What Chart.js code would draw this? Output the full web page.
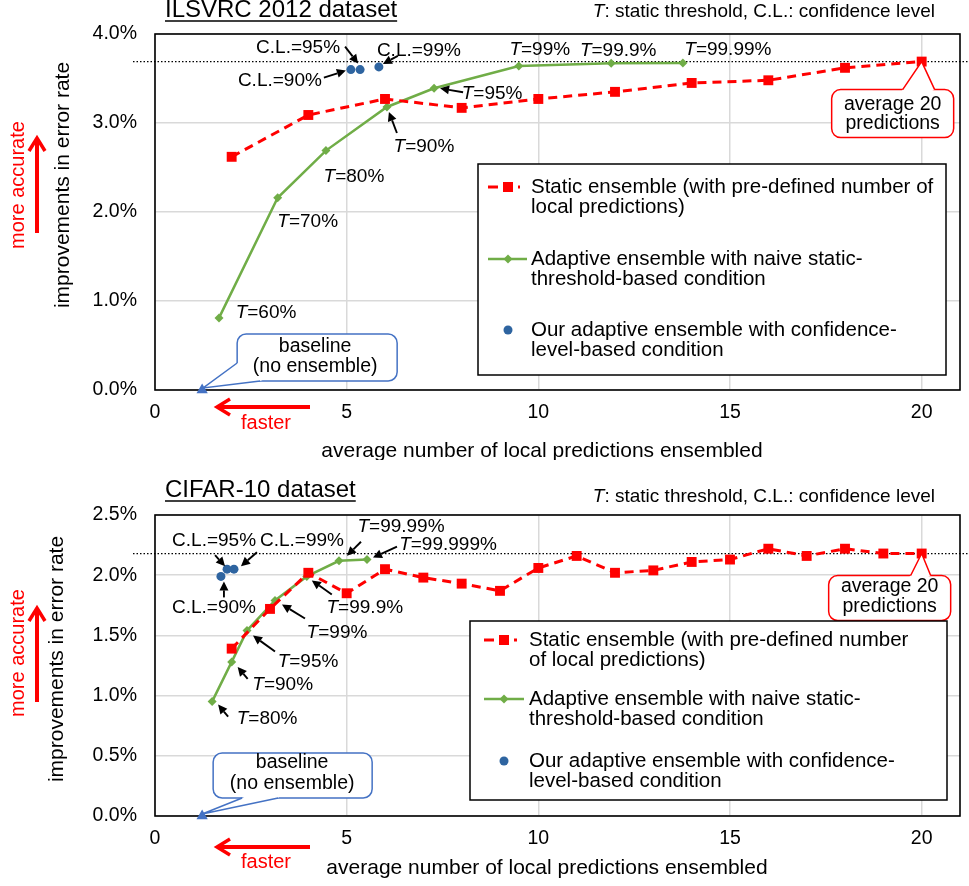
<!DOCTYPE html>
<html>
<head>
<meta charset="utf-8">
<script src="https://cdn.jsdelivr.net/npm/chart.js@4.4.1/dist/chart.umd.min.js"></script>
<style>
  body { margin: 0; background: #fff; }
  #wrapTop { position: absolute; left: 0; top: 0; width: 969px; height: 460px; }
  #wrapBot { position: absolute; left: 0; top: 460px; width: 969px; height: 426px; }
</style>
</head>
<body>
<div id="wrapTop"><canvas id="chartTop"></canvas></div>
<div id="wrapBot"><canvas id="chartBot"></canvas></div>
<script>
// ---------- dados ----------
const xTicks = [0, 5, 10, 15, 20];
const yTicksTop = [0, 1, 2, 3, 4];
const yTicksBot = [0, 0.5, 1, 1.5, 2, 2.5];

// ILSVRC 2012
const staticTopX = [2, 4, 6, 8, 10, 12, 14, 16, 18, 20];
const staticTopY = [2.62, 3.09, 3.27, 3.17, 3.27, 3.35, 3.45, 3.48, 3.62, 3.69];
const adaptiveTopX = [1.67, 3.2, 4.46, 6.05, 7.28, 9.49, 11.9, 13.77];
const adaptiveTopY = [0.81, 2.16, 2.69, 3.18, 3.39, 3.64, 3.67, 3.675];
const adaptiveTopLabels = ['T=60%', 'T=70%', 'T=80%', 'T=90%', 'T=95%', 'T=99%', 'T=99.9%', 'T=99.99%'];
const oursTopX = [5.11, 5.35, 5.84];
const oursTopY = [3.60, 3.60, 3.63];

// CIFAR-10
const staticBotX = [2, 3, 4, 5, 6, 7, 8, 9, 10, 11, 12, 13, 14, 15, 16, 17, 18, 19, 20];
const staticBotY = [1.39, 1.72, 2.02, 1.85, 2.05, 1.98, 1.93, 1.87, 2.06, 2.16, 2.02, 2.04, 2.11, 2.13, 2.22, 2.16, 2.22, 2.18, 2.18];
const adaptiveBotX = [1.49, 2.0, 2.4, 3.13, 3.96, 4.8, 5.53];
const adaptiveBotY = [0.95, 1.28, 1.54, 1.79, 1.99, 2.12, 2.13];
const adaptiveBotLabels = ['T=80%', 'T=90%', 'T=95%', 'T=99%', 'T=99.9%', 'T=99.99%', 'T=99.999%'];
const oursBotX = [1.72, 1.88, 2.06];
const oursBotY = [1.99, 2.05, 2.05];

const oursLabels = ['C.L.=90%', 'C.L.=95%', 'C.L.=99%'];
const baselineX = [1.23];
const baselineY = [0];

const legendTop = [
    ['Static ensemble (with pre-defined number of', 'local predictions)'],
    ['Adaptive ensemble with naive static-', 'threshold-based condition'],
    ['Our adaptive ensemble with confidence-', 'level-based condition']
];
const legendBot = [
    ['Static ensemble (with pre-defined number', 'of local predictions)'],
    ['Adaptive ensemble with naive static-', 'threshold-based condition'],
    ['Our adaptive ensemble with confidence-', 'level-based condition']
];

// ---------- estilos ----------
const RED = '#FF0000';
const GREEN = '#70AD47';
const DOT_BLUE = '#2E64A0';
const BLUE = '#4472C4';
const GRID = '#D9D9D9';
const FONT = '"Liberation Sans", Arial, Helvetica, sans-serif';

function font(size, italic) {
    return (italic ? 'italic ' : '') + size + 'px ' + FONT;
}

function zip(xs, ys) {
    return xs.map((x, i) => ({ x: x, y: ys[i] }));
}

// texto com o "T" em itálico
function richText(ctx, txt, x, y, size, align, color) {
    const parts = /^T[=:]/.test(txt) ? [['T', true], [txt.slice(1), false]] : [[txt, false]];
    const widths = parts.map(p => { ctx.font = font(size, p[1]); return ctx.measureText(p[0]).width; });
    const total = widths.reduce((a, b) => a + b, 0);
    let sx = align === 'center' ? x - total / 2 : (align === 'right' ? x - total : x);
    ctx.fillStyle = color || '#000';
    ctx.textAlign = 'left';
    ctx.textBaseline = 'middle';
    parts.forEach((p, i) => {
        ctx.font = font(size, p[1]);
        ctx.fillText(p[0], sx, y);
        sx += widths[i];
    });
}

// seta preta com ponta cheia
function arrowFilled(ctx, x1, y1, x2, y2) {
    const ang = Math.atan2(y2 - y1, x2 - x1);
    const head = 9, hw = 4.5;
    const bx = x2 - head * Math.cos(ang), by = y2 - head * Math.sin(ang);
    ctx.strokeStyle = '#000';
    ctx.fillStyle = '#000';
    ctx.lineWidth = 1.9;
    ctx.beginPath(); ctx.moveTo(x1, y1); ctx.lineTo(bx, by); ctx.stroke();
    ctx.beginPath();
    ctx.moveTo(x2, y2);
    ctx.lineTo(bx + hw * Math.sin(ang), by - hw * Math.cos(ang));
    ctx.lineTo(bx - hw * Math.sin(ang), by + hw * Math.cos(ang));
    ctx.closePath(); ctx.fill();
}

// seta vermelha com ponta aberta
function arrowOpen(ctx, x1, y1, x2, y2) {
    const ang = Math.atan2(y2 - y1, x2 - x1);
    const head = 13, hw = 8;
    const bx = x2 - head * Math.cos(ang), by = y2 - head * Math.sin(ang);
    ctx.strokeStyle = RED;
    ctx.lineWidth = 4;
    ctx.lineCap = 'butt';
    ctx.beginPath(); ctx.moveTo(x1, y1); ctx.lineTo(x2 - 2 * Math.cos(ang), y2 - 2 * Math.sin(ang)); ctx.stroke();
    ctx.lineWidth = 3.5;
    ctx.beginPath();
    ctx.moveTo(bx + hw * Math.sin(ang), by - hw * Math.cos(ang));
    ctx.lineTo(x2, y2);
    ctx.lineTo(bx - hw * Math.sin(ang), by + hw * Math.cos(ang));
    ctx.stroke();
}

// balão com cunha apontando para um ponto
function callout(ctx, px, py, c) {
    const x = px + c.box[0], y = py + c.box[1], w = c.box[2], h = c.box[3];
    const cx = x + w / 2, cy = y + h / 2;
    const b1 = [px + c.wedge[0], py + c.wedge[1]];
    const b2 = [px + c.wedge[2], py + c.wedge[3]];
    const tip = [px + c.tip[0], py + c.tip[1]];
    const inward = (b) => {
        const d = Math.hypot(cx - b[0], cy - b[1]);
        return [b[0] + (cx - b[0]) / d * 4, b[1] + (cy - b[1]) / d * 4];
    };
    ctx.save();
    ctx.lineWidth = 1.5;
    ctx.strokeStyle = c.color;
    ctx.fillStyle = '#fff';
    ctx.beginPath(); ctx.roundRect(x, y, w, h, 9); ctx.fill(); ctx.stroke();
    const i1 = inward(b1), i2 = inward(b2);
    ctx.beginPath();
    ctx.moveTo(i1[0], i1[1]); ctx.lineTo(b1[0], b1[1]); ctx.lineTo(tip[0], tip[1]);
    ctx.lineTo(b2[0], b2[1]); ctx.lineTo(i2[0], i2[1]); ctx.closePath(); ctx.fill();
    ctx.beginPath();
    ctx.moveTo(b1[0], b1[1]); ctx.lineTo(tip[0], tip[1]); ctx.lineTo(b2[0], b2[1]); ctx.stroke();
    ctx.fillStyle = '#000';
    ctx.font = font(19.5);
    ctx.textAlign = 'center';
    ctx.textBaseline = 'middle';
    c.text.forEach((t, i) => ctx.fillText(t, px + c.textPos[0], py + c.textPos[1] + i * c.lineGap));
    ctx.restore();
}

function drawLabels(ctx, chart, dsIndex, labels, offs) {
    const meta = chart.getDatasetMeta(dsIndex);
    labels.forEach((txt, i) => {
        const p = meta.data[i];
        const o = offs[i];
        richText(ctx, txt, p.x + o.t[0], p.y + o.t[1], 19, 'center');
        if (o.a) arrowFilled(ctx, p.x + o.a[0], p.y + o.a[1], p.x + o.a[2], p.y + o.a[3]);
    });
}

function drawLegend(ctx, L, lines) {
    ctx.save();
    ctx.fillStyle = '#fff';
    ctx.fillRect(L.box[0], L.box[1], L.box[2], L.box[3]);
    ctx.strokeStyle = '#000';
    ctx.lineWidth = 1.5;
    ctx.strokeRect(L.box[0], L.box[1], L.box[2], L.box[3]);
    const [x0, x1, mx] = L.sample;
    // estático
    let y = L.rows[0];
    ctx.strokeStyle = RED; ctx.lineWidth = 3; ctx.setLineDash([10, 5]);
    ctx.beginPath(); ctx.moveTo(x0, y); ctx.lineTo(x1, y); ctx.stroke();
    ctx.setLineDash([]);
    ctx.fillStyle = RED; ctx.fillRect(mx - 5, y - 5, 10, 10);
    // adaptativo
    y = L.rows[1];
    ctx.strokeStyle = GREEN; ctx.lineWidth = 2.5;
    ctx.beginPath(); ctx.moveTo(x0, y); ctx.lineTo(x1 + 7, y); ctx.stroke();
    ctx.fillStyle = GREEN;
    ctx.beginPath(); ctx.moveTo(mx, y - 4.5); ctx.lineTo(mx + 4.5, y); ctx.lineTo(mx, y + 4.5); ctx.lineTo(mx - 4.5, y); ctx.closePath(); ctx.fill();
    // nosso
    y = L.rows[2];
    ctx.fillStyle = DOT_BLUE;
    ctx.beginPath(); ctx.arc(mx, y, 4.5, 0, Math.PI * 2); ctx.fill();
    ctx.fillStyle = '#000';
    ctx.font = font(20.5);
    ctx.textAlign = 'left';
    ctx.textBaseline = 'middle';
    lines.forEach((ls, i) => {
        ls.forEach((t, j) => ctx.fillText(t, L.textX, L.rows[i] + j * L.lineGap));
    });
    ctx.restore();
}

function makeDecor(cfg) {
    return {
        id: 'decor',
        beforeDatasetsDraw(chart) {
            const ctx = chart.ctx, a = chart.chartArea;
            const yy = chart.scales.y.getPixelForValue(cfg.refValue);
            ctx.save();
            ctx.strokeStyle = '#000';
            ctx.lineWidth = 1.3;
            ctx.setLineDash([1.5, 2]);
            ctx.beginPath(); ctx.moveTo(133, yy); ctx.lineTo(chart.width, yy); ctx.stroke();
            ctx.setLineDash([]);
            ctx.lineWidth = 1.6;
            ctx.strokeRect(a.left, a.top, a.right - a.left, a.bottom - a.top);
            ctx.restore();
        },
        afterDraw(chart) {
            const ctx = chart.ctx;
            ctx.save();
            drawLabels(ctx, chart, 1, cfg.adaptiveLabels, cfg.adaptiveOffs);
            drawLabels(ctx, chart, 2, oursLabels, cfg.oursOffs);
            const base = chart.getDatasetMeta(3).data[0];
            callout(ctx, base.x, base.y, cfg.baseCallout);
            const st = chart.getDatasetMeta(0).data;
            const last = st[st.length - 1];
            callout(ctx, last.x, last.y, cfg.avgCallout);
            drawLegend(ctx, cfg.legend, cfg.legendLines);

            // título sublinhado
            ctx.fillStyle = '#000';
            ctx.font = font(24);
            ctx.textAlign = 'left';
            ctx.textBaseline = 'middle';
            ctx.fillText(cfg.title, 165, cfg.titleY);
            const tw = ctx.measureText(cfg.title).width;
            ctx.strokeStyle = '#000'; ctx.lineWidth = 1.5;
            ctx.beginPath(); ctx.moveTo(165, cfg.titleY + 11); ctx.lineTo(165 + tw, cfg.titleY + 11); ctx.stroke();
            richText(ctx, 'T: static threshold, C.L.: confidence level', 935, cfg.noteY, 19, 'right');

            // títulos dos eixos
            ctx.font = font(21);
            ctx.textAlign = 'center';
            ctx.fillStyle = '#000';
            ctx.fillText('average number of local predictions ensembled', cfg.xTitle[0], cfg.xTitle[1]);
            ctx.save();
            ctx.translate(cfg.yTitle[0], cfg.yTitle[1]);
            ctx.rotate(-Math.PI / 2);
            ctx.fillText('improvements in error rate', 0, 0);
            ctx.restore();

            // mais preciso / mais rápido
            ctx.save();
            ctx.translate(18, cfg.accurate[0]);
            ctx.rotate(-Math.PI / 2);
            ctx.fillStyle = RED;
            ctx.font = font(20);
            ctx.fillText('more accurate', 0, 0);
            ctx.restore();
            arrowOpen(ctx, 37, cfg.accurate[1], 37, cfg.accurate[2]);
            arrowOpen(ctx, 310, cfg.faster[0], 217, cfg.faster[0]);
            ctx.fillStyle = RED;
            ctx.font = font(20);
            ctx.textAlign = 'center';
            ctx.fillText('faster', 266, cfg.faster[1]);
            ctx.restore();
        }
    };
}

function makeChart(id, cfg) {
    const tickFont = { family: FONT, size: 19.5 };
    return new Chart(document.getElementById(id), {
        type: 'scatter',
        data: {
            datasets: [{
                data: zip(cfg.staticX, cfg.staticY),
                showLine: true,
                borderColor: RED,
                backgroundColor: RED,
                borderWidth: 3,
                borderDash: [9, 6],
                pointStyle: 'rect',
                pointRadius: 7,
                pointBorderWidth: 0
            }, {
                data: zip(cfg.adaptiveX, cfg.adaptiveY),
                showLine: true,
                borderColor: GREEN,
                backgroundColor: GREEN,
                borderWidth: 2.5,
                pointStyle: 'rectRot',
                pointRadius: 4.5,
                pointBorderWidth: 0
            }, {
                data: zip(cfg.oursX, cfg.oursY),
                borderColor: DOT_BLUE,
                backgroundColor: DOT_BLUE,
                pointStyle: 'circle',
                pointRadius: 4.5,
                pointBorderWidth: 0
            }, {
                data: zip(baselineX, baselineY),
                borderColor: BLUE,
                backgroundColor: BLUE,
                pointStyle: 'triangle',
                pointRadius: 6.5,
                pointBorderWidth: 0,
                clip: false
            }]
        },
        options: {
            responsive: true,
            maintainAspectRatio: false,
            animation: false,
            layout: { padding: cfg.padding },
            plugins: { legend: { display: false }, tooltip: { enabled: false } },
            scales: {
                x: {
                    type: 'linear',
                    min: 0,
                    max: 21,
                    afterBuildTicks: s => { s.ticks = xTicks.map(v => ({ value: v })); },
                    afterFit: s => { s.height = 30; },
                    ticks: { color: '#000', font: tickFont, padding: 11, maxRotation: 0 },
                    grid: { color: GRID, lineWidth: 1.5, drawTicks: false },
                    border: { display: false }
                },
                y: {
                    min: 0,
                    max: cfg.yMax,
                    afterBuildTicks: s => { s.ticks = cfg.yTicks.map(v => ({ value: v })); },
                    afterFit: s => { s.width = 155; },
                    ticks: { color: '#000', font: tickFont, padding: 18, callback: v => v.toFixed(1) + '%' },
                    grid: { color: GRID, lineWidth: 1.5, drawTicks: false },
                    border: { display: false }
                }
            }
        },
        plugins: [makeDecor(cfg)]
    });
}

makeChart('chartTop', {
    staticX: staticTopX, staticY: staticTopY,
    adaptiveX: adaptiveTopX, adaptiveY: adaptiveTopY,
    oursX: oursTopX, oursY: oursTopY,
    yMax: 4, yTicks: yTicksTop,
    refValue: staticTopY[staticTopY.length - 1],
    padding: { top: 34, right: 9, bottom: 40, left: 0 },
    adaptiveLabels: adaptiveTopLabels,
    adaptiveOffs: [
        { t: [47, -5] },
        { t: [30, 24] },
        { t: [28, 26] },
        { t: [37, 40], a: [10, 26, 2, 5] },
        { t: [58, 5], a: [29, 4, 6, 0] },
        { t: [21, -16] },
        { t: [7, -13] },
        { t: [45, -13] }
    ],
    oursOffs: [
        { t: [-71, 11], a: [-27, 8, -5, 1] },
        { t: [-62, -22], a: [-15, -23, -2, -6] },
        { t: [40, -16], a: [19, -11, 4, -3] }
    ],
    baseCallout: { color: BLUE, box: [35, -56, 160, 47], wedge: [35, -27, 58, -9], tip: [1, -2],
        text: ['baseline', '(no ensemble)'], textPos: [113, -43], lineGap: 20 },
    avgCallout: { color: RED, box: [-90, 28, 122, 48], wedge: [-19, 28, 13, 28], tip: [0, 0],
        text: ['average 20', 'predictions'], textPos: [-29, 43], lineGap: 19 },
    legend: { box: [478, 164, 468, 211], sample: [488, 520, 508], textX: 531, rows: [187, 259, 330], lineGap: 20 },
    legendLines: legendTop,
    title: 'ILSVRC 2012 dataset', titleY: 10, noteY: 12,
    xTitle: [542, 451], yTitle: [63, 185],
    accurate: [185, 233, 138], faster: [407, 423]
});

makeChart('chartBot', {
    staticX: staticBotX, staticY: staticBotY,
    adaptiveX: adaptiveBotX, adaptiveY: adaptiveBotY,
    oursX: oursBotX, oursY: oursBotY,
    yMax: 2.5, yTicks: yTicksBot,
    refValue: staticBotY[staticBotY.length - 1],
    padding: { top: 55, right: 9, bottom: 40, left: 0 },
    adaptiveLabels: adaptiveBotLabels,
    adaptiveOffs: [
        { t: [55, 17], a: [16, 15, 6, 3] },
        { t: [51, 23], a: [16, 17, 6, 5] },
        { t: [61, 31], a: [28, 21, 6, 5] },
        { t: [62, 32], a: [30, 18, 7, 4] },
        { t: [58, 31], a: [25, 18, 5, 4] },
        { t: [62, -34], a: [22, -19, 8, -5] },
        { t: [81, -15], a: [30, -13, 6, -2] }
    ],
    oursOffs: [
        { t: [-7, 31], a: [3, 21, 3, 5] },
        { t: [-13, -28], a: [-12, -14, -2, -3] },
        { t: [68, -28], a: [23, -17, 7, -3] }
    ],
    baseCallout: { color: BLUE, box: [11, -63, 159, 45], wedge: [40, -18, 76, -18], tip: [0, -2],
        text: ['baseline', '(no ensemble)'], textPos: [90, -53], lineGap: 21 },
    avgCallout: { color: RED, box: [-93, 22, 122, 45], wedge: [-11, 22, 9, 22], tip: [0, 0],
        text: ['average 20', 'predictions'], textPos: [-32, 33], lineGap: 20 },
    legend: { box: [470, 161, 477, 179], sample: [484, 517, 504], textX: 529, rows: [180, 239, 301], lineGap: 20 },
    legendLines: legendBot,
    title: 'CIFAR-10 dataset', titleY: 30, noteY: 37,
    xTitle: [547, 408], yTitle: [57, 199],
    accurate: [193, 242, 148], faster: [387, 402]
});
</script>
</body>
</html>
